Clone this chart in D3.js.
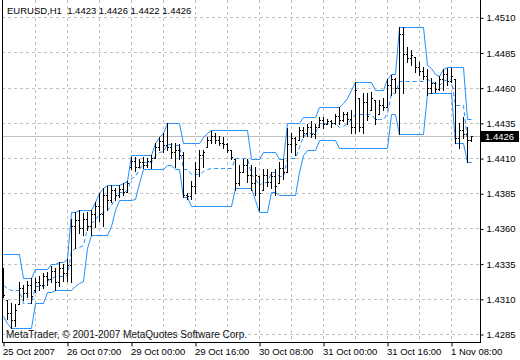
<!DOCTYPE html>
<html><head><meta charset="utf-8">
<script src="https://cdn.jsdelivr.net/npm/d3@7"></script>
<style>body{margin:0;background:#fff}svg{display:block}text{font-family:"Liberation Sans",Arial,sans-serif}</style>
</head><body><svg id="c" width="520" height="360"></svg>
<script>
const titleText = "EURUSD,H1  1.4423 1.4426 1.4422 1.4426";
const copyrightText = "MetaTrader, \u00A9 2001-2007 MetaQuotes Software Corp.";
const xLabels = ["25 Oct 2007","26 Oct 07:00","29 Oct 00:00","29 Oct 16:00","30 Oct 08:00","31 Oct 00:00","31 Oct 16:00","1 Nov 08:00"];
const xLabelBars = [0,16,32,48,64,80,96,112];
const yTicks = [1.4285,1.4310,1.4335,1.4360,1.4385,1.4410,1.4435,1.4460,1.4485,1.4510];
const lastPrice = 1.4426;

const openP = [1.4326,1.4309,1.4300,1.4295,1.4306,1.4318,1.4314,1.4320,1.4316,1.4322,
1.4320,1.4326,1.4324,1.4330,1.4322,1.4332,1.4328,1.4334,1.4362,1.4366,
1.4360,1.4367,1.4362,1.4370,1.4376,1.4370,1.4384,1.4380,1.4387,1.4384,
1.4388,1.4386,1.4404,1.4408,1.4404,1.4407,1.4405,1.4408,1.4410,1.4418,
1.4422,1.4419,1.4418,1.4414,1.4416,1.4412,1.4384,1.4383,1.4390,1.4402,
1.4412,1.4418,1.4423,1.4426,1.4423,1.4421,1.4420,1.4416,1.4409,1.4392,
1.4400,1.4405,1.4398,1.4392,1.4397,1.4387,1.4398,1.4393,1.4397,1.4392,
1.4403,1.4400,1.4420,1.4424,1.4423,1.4430,1.4428,1.4432,1.4427,1.4432,
1.4437,1.4434,1.4436,1.4435,1.4440,1.4437,1.4441,1.4438,1.4432,1.4453,
1.4432,1.4450,1.4444,1.4451,1.4441,1.4448,1.4446,1.4462,1.4466,1.4460,
1.4498,1.4484,1.4481,1.4482,1.4475,1.4472,1.4468,1.4460,1.4463,1.4459,
1.4466,1.4470,1.4465,1.4466,1.4424,1.4430,1.4427,1.4423];
const highP = [1.4332,1.4309,1.4307,1.4306,1.4322,1.4320,1.4323,1.4325,1.4325,1.4326,
1.4328,1.4329,1.4333,1.4332,1.4336,1.4335,1.4338,1.4367,1.4372,1.4373,
1.4371,1.4372,1.4373,1.4379,1.4385,1.4389,1.4390,1.4391,1.4389,1.4391,
1.4392,1.4394,1.4411,1.4411,1.4409,1.4411,1.4410,1.4412,1.4421,1.4425,
1.4428,1.4435,1.4421,1.4421,1.4420,1.4414,1.4385,1.4394,1.4407,1.4416,
1.4416,1.4425,1.4429,1.4428,1.4426,1.4425,1.4421,1.4416,1.4409,1.4405,
1.4409,1.4409,1.4405,1.4404,1.4397,1.4402,1.4402,1.4400,1.4402,1.4407,
1.4409,1.4431,1.4428,1.4425,1.4432,1.4432,1.4434,1.4436,1.4434,1.4439,
1.4439,1.4438,1.4437,1.4441,1.4446,1.4443,1.4443,1.4444,1.4464,1.4453,
1.4456,1.4456,1.4457,1.4451,1.4451,1.4453,1.4466,1.4469,1.4467,1.4503,
1.4503,1.4489,1.4487,1.4482,1.4478,1.4475,1.4473,1.4467,1.4464,1.4468,
1.4473,1.4474,1.4474,1.4466,1.4435,1.4439,1.4432,1.4426];
const lowP = [1.4311,1.4296,1.4289,1.4291,1.4306,1.4309,1.4311,1.4307,1.4315,1.4316,
1.4318,1.4320,1.4322,1.4316,1.4319,1.4323,1.4323,1.4322,1.4346,1.4357,
1.4355,1.4359,1.4355,1.4361,1.4365,1.4362,1.4373,1.4379,1.4380,1.4382,
1.4384,1.4386,1.4402,1.4401,1.4404,1.4403,1.4404,1.4403,1.4410,1.4416,
1.4414,1.4416,1.4410,1.4404,1.4409,1.4382,1.4381,1.4381,1.4385,1.4397,
1.4404,1.4418,1.4421,1.4421,1.4419,1.4417,1.4414,1.4409,1.4387,1.4391,
1.4400,1.4393,1.4387,1.4384,1.4373,1.4387,1.4390,1.4389,1.4384,1.4392,
1.4395,1.4400,1.4414,1.4412,1.4423,1.4425,1.4426,1.4425,1.4424,1.4432,
1.4431,1.4434,1.4432,1.4434,1.4434,1.4436,1.4434,1.4428,1.4428,1.4429,
1.4428,1.4437,1.4444,1.4434,1.4441,1.4444,1.4446,1.4455,1.4457,1.4427,
1.4456,1.4478,1.4476,1.4471,1.4469,1.4466,1.4455,1.4456,1.4457,1.4458,
1.4458,1.4462,1.4464,1.4421,1.4417,1.4424,1.4407,1.4422];
const closeP = [1.4313,1.4300,1.4295,1.4302,1.4318,1.4314,1.4320,1.4312,1.4322,1.4320,
1.4326,1.4324,1.4330,1.4322,1.4332,1.4328,1.4334,1.4362,1.4366,1.4360,
1.4367,1.4362,1.4370,1.4376,1.4370,1.4384,1.4380,1.4387,1.4384,1.4388,
1.4386,1.4392,1.4408,1.4404,1.4407,1.4405,1.4408,1.4410,1.4418,1.4422,
1.4419,1.4418,1.4414,1.4416,1.4412,1.4384,1.4383,1.4390,1.4402,1.4412,
1.4414,1.4423,1.4426,1.4423,1.4421,1.4420,1.4416,1.4411,1.4392,1.4400,
1.4405,1.4398,1.4392,1.4398,1.4385,1.4398,1.4393,1.4397,1.4390,1.4403,
1.4400,1.4420,1.4424,1.4420,1.4430,1.4428,1.4432,1.4427,1.4432,1.4437,
1.4434,1.4436,1.4435,1.4440,1.4437,1.4441,1.4438,1.4432,1.4458,1.4432,
1.4450,1.4440,1.4453,1.4438,1.4448,1.4446,1.4462,1.4466,1.4460,1.4498,
1.4484,1.4481,1.4483,1.4475,1.4472,1.4468,1.4460,1.4463,1.4459,1.4466,
1.4470,1.4465,1.4468,1.4424,1.4430,1.4427,1.4423,1.4426];

const upperBand = [1.4342,1.4342,1.4342,1.4342,1.4342,1.4325,1.4325,1.4325,1.4331,1.4331,
1.4331,1.4331,1.4335,1.4335,1.4336,1.4336,1.4338,1.4372,1.4372,1.4373,
1.4373,1.4373,1.4373,1.4379,1.4385,1.4389,1.4391,1.4391,1.4391,1.4391,
1.4392,1.4394,1.4412,1.4412,1.4412,1.4412,1.4412,1.4412,1.4421,1.4425,
1.4428,1.4435,1.4435,1.4435,1.4435,1.4421,1.4421,1.4421,1.4421,1.4421,
1.4425,1.4428,1.4430,1.4430,1.4430,1.4430,1.4430,1.4430,1.4430,1.4430,
1.4430,1.4430,1.4409,1.4409,1.4409,1.4414,1.4414,1.4414,1.4414,1.4409,
1.4409,1.4435,1.4435,1.4435,1.4435,1.4439,1.4439,1.4439,1.4439,1.4446,
1.4446,1.4446,1.4446,1.4446,1.4446,1.4449,1.4453,1.4458,1.4464,1.4464,
1.4464,1.4464,1.4464,1.4458,1.4458,1.4458,1.4466,1.4470,1.4470,1.4503,
1.4503,1.4503,1.4503,1.4503,1.4503,1.4503,1.4476,1.4474,1.4470,1.4468,
1.4473,1.4475,1.4475,1.4475,1.4475,1.4475,1.4438,1.4438];
const lowerBand = [1.4298,1.4293,1.4289,1.4289,1.4289,1.4289,1.4289,1.4289,1.4307,1.4307,
1.4307,1.4315,1.4315,1.4316,1.4316,1.4316,1.4316,1.4316,1.4319,1.4321,
1.4323,1.4346,1.4355,1.4355,1.4355,1.4355,1.4355,1.4362,1.4373,1.4380,
1.4380,1.4380,1.4380,1.4381,1.4392,1.4402,1.4402,1.4402,1.4402,1.4402,
1.4402,1.4405,1.4405,1.4402,1.4402,1.4382,1.4382,1.4376,1.4376,1.4376,
1.4376,1.4376,1.4376,1.4376,1.4376,1.4376,1.4376,1.4376,1.4389,1.4389,
1.4389,1.4389,1.4389,1.4380,1.4372,1.4372,1.4372,1.4386,1.4386,1.4384,
1.4384,1.4384,1.4384,1.4384,1.4400,1.4412,1.4416,1.4416,1.4416,1.4423,
1.4423,1.4423,1.4423,1.4423,1.4417,1.4417,1.4417,1.4417,1.4417,1.4417,
1.4417,1.4417,1.4417,1.4417,1.4417,1.4417,1.4417,1.4441,1.4441,1.4427,
1.4427,1.4427,1.4427,1.4427,1.4427,1.4427,1.4456,1.4456,1.4456,1.4456,
1.4456,1.4456,1.4456,1.4421,1.4421,1.4421,1.4407,1.4407];
const middleBand = [1.4320,1.4318,1.4316,1.4316,1.4316,1.4307,1.4307,1.4307,1.4319,1.4319,
1.4319,1.4323,1.4325,1.4326,1.4326,1.4326,1.4327,1.4344,1.4346,1.4347,
1.4348,1.4360,1.4364,1.4367,1.4370,1.4372,1.4373,1.4377,1.4382,1.4386,
1.4386,1.4387,1.4396,1.4397,1.4402,1.4407,1.4407,1.4407,1.4412,1.4414,
1.4415,1.4420,1.4420,1.4419,1.4419,1.4402,1.4402,1.4399,1.4399,1.4399,
1.4401,1.4402,1.4403,1.4403,1.4403,1.4403,1.4403,1.4403,1.4410,1.4410,
1.4410,1.4410,1.4399,1.4395,1.4391,1.4393,1.4393,1.4400,1.4400,1.4397,
1.4397,1.4410,1.4410,1.4410,1.4418,1.4426,1.4428,1.4428,1.4428,1.4435,
1.4435,1.4435,1.4435,1.4435,1.4432,1.4433,1.4435,1.4438,1.4441,1.4441,
1.4441,1.4441,1.4441,1.4438,1.4438,1.4438,1.4442,1.4456,1.4456,1.4465,
1.4465,1.4465,1.4465,1.4465,1.4465,1.4465,1.4466,1.4465,1.4463,1.4462,
1.4465,1.4466,1.4466,1.4448,1.4448,1.4448,1.4423,1.4423];

const svg = d3.select("#c");
const W = 520, H = 360;
const plotL = 2, plotR = 480, plotB = 342;
const n = closeP.length;
const x = d3.scaleLinear().domain([0, 117]).range([3, 471]);
const y = d3.scaleLinear().domain([1.4285, 1.4510]).range([334, 17.3]);
const idx = d3.range(n);
const gridColor = "#c0c0c0";
const blue = "#1e90ff";

svg.append("rect").attr("width", W).attr("height", H).attr("fill", "#fff");

svg.append("defs").append("clipPath").attr("id", "clip")
  .append("rect").attr("x", plotL).attr("y", 0).attr("width", plotR - plotL).attr("height", plotB);

// grid
const grid = svg.append("g");
grid.selectAll("line.h").data(yTicks).join("line")
  .attr("x1", plotL).attr("x2", plotR)
  .attr("y1", d => Math.round(y(d)) + 0.5).attr("y2", d => Math.round(y(d)) + 0.5)
  .attr("stroke", gridColor).attr("stroke-dasharray", "3,3");
grid.selectAll("line.v").data(d3.range(8, 118, 8)).join("line")
  .attr("x1", d => Math.round(x(d)) + 0.5).attr("x2", d => Math.round(x(d)) + 0.5)
  .attr("y1", 0).attr("y2", plotB)
  .attr("stroke", gridColor).attr("stroke-dasharray", "3,3");

// last price line
svg.append("line").attr("x1", plotL).attr("x2", plotR)
  .attr("y1", Math.round(y(lastPrice)) + 0.5).attr("y2", Math.round(y(lastPrice)) + 0.5)
  .attr("stroke", "#c0c0c0");

const plot = svg.append("g").attr("clip-path", "url(#clip)");

// bands
const lineGen = arr => d3.line().x(i => x(i) + 0.5).y(i => Math.round(y(arr[i])) + 0.5)(idx);
plot.append("path").attr("d", lineGen(upperBand)).attr("fill", "none").attr("stroke", blue).attr("stroke-width", 1);
plot.append("path").attr("d", lineGen(lowerBand)).attr("fill", "none").attr("stroke", blue).attr("stroke-width", 1);
plot.append("path").attr("d", lineGen(middleBand)).attr("fill", "none").attr("stroke", blue).attr("stroke-width", 1).attr("stroke-dasharray", "4,3");

// OHLC bars
const bars = plot.append("g").attr("stroke", "#000").attr("shape-rendering", "crispEdges");
bars.selectAll("line.hl").data(idx).join("line")
  .attr("x1", i => x(i) + 0.5).attr("x2", i => x(i) + 0.5)
  .attr("y1", i => Math.round(y(highP[i]))).attr("y2", i => Math.round(y(lowP[i])) + 1)
  .attr("stroke-width", 1);
bars.selectAll("line.o").data(idx).join("line")
  .attr("x1", i => x(i) - 1).attr("x2", i => x(i))
  .attr("y1", i => Math.round(y(openP[i])) + 0.5).attr("y2", i => Math.round(y(openP[i])) + 0.5)
  .attr("stroke-width", 1);
bars.selectAll("line.c").data(idx).join("line")
  .attr("x1", i => x(i) + 1).attr("x2", i => x(i) + 2)
  .attr("y1", i => Math.round(y(closeP[i])) + 0.5).attr("y2", i => Math.round(y(closeP[i])) + 0.5)
  .attr("stroke-width", 1);

// frame
svg.append("line").attr("x1", plotL + 0.5).attr("x2", plotL + 0.5).attr("y1", 0).attr("y2", plotB + 0.5).attr("stroke", "#000");
svg.append("line").attr("x1", plotR + 0.5).attr("x2", plotR + 0.5).attr("y1", 0).attr("y2", plotB + 0.5).attr("stroke", "#000");
svg.append("line").attr("x1", plotL).attr("x2", plotR + 1).attr("y1", plotB + 0.5).attr("y2", plotB + 0.5).attr("stroke", "#000");

// right axis
const yAxis = d3.axisRight(y).tickValues(yTicks).tickFormat(d3.format(".4f")).tickSize(3).tickPadding(3);
const ya = svg.append("g").attr("transform", `translate(${plotR + 0.5},0.5)`).call(yAxis);
ya.select(".domain").remove();
ya.selectAll("text").attr("font-size", "9.5px").attr("font-family", "'Liberation Sans',Arial,sans-serif").attr("fill", "#000");
ya.selectAll("line").attr("stroke", "#000");

// bottom axis
const xAxis = d3.axisBottom(x).tickValues(xLabelBars).tickFormat((d, k) => xLabels[k]).tickSize(4).tickPadding(2);
const xa = svg.append("g").attr("transform", `translate(0.5,${plotB + 0.5})`).call(xAxis);
xa.select(".domain").remove();
xa.selectAll("text").attr("font-size", "9.5px").attr("font-family", "'Liberation Sans',Arial,sans-serif")
  .attr("fill", "#000").attr("text-anchor", "start").attr("dx", "-1");
xa.selectAll("line").attr("stroke", "#000");

// last price label
const ly = y(lastPrice);
svg.append("rect").attr("x", 481).attr("y", Math.round(ly) - 5).attr("width", 38).attr("height", 11).attr("fill", "#000");
svg.append("text").attr("x", 485).attr("y", Math.round(ly) + 4).attr("font-size", "9.5px").attr("fill", "#fff").text(d3.format(".4f")(lastPrice));

// title & copyright
svg.append("text").attr("x", 7).attr("y", 14).attr("font-size", "9.5px").attr("fill", "#000")
  .attr("xml:space", "preserve").style("white-space", "pre").text(titleText);
svg.append("text").attr("x", 6).attr("y", 338).attr("font-size", "10px").attr("fill", "#111").text(copyrightText);
</script>
</body></html>
